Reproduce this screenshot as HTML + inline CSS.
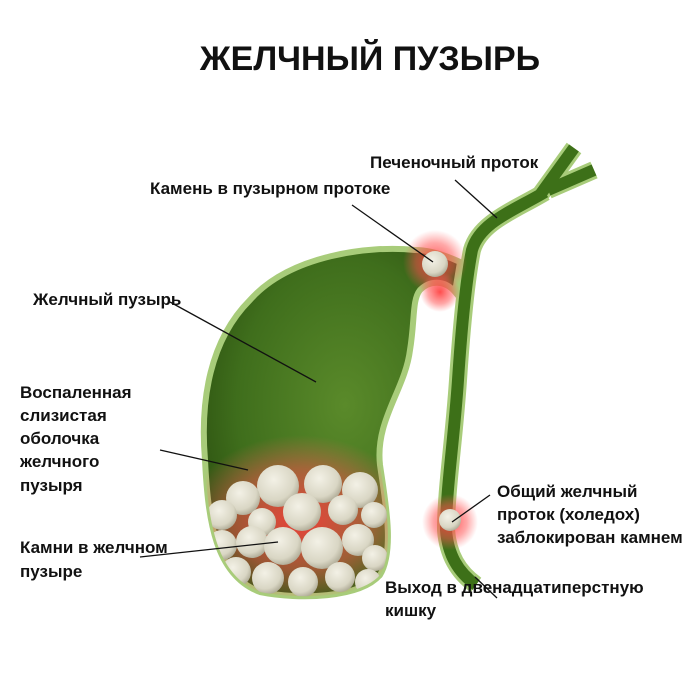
<!DOCTYPE html>
<html><head><meta charset="utf-8"><style>
body{margin:0;background:#fff}
svg{display:block}
text{font-family:"Liberation Sans",sans-serif;font-weight:bold;font-size:17px;fill:#111}
</style></head><body>
<svg width="700" height="700" viewBox="0 0 700 700">
<defs>
<radialGradient id="gb" cx="0.55" cy="0.45" r="0.6">
<stop offset="0" stop-color="#5a8a2a"/><stop offset="0.7" stop-color="#3f6e1c"/><stop offset="1" stop-color="#2f5512"/>
</radialGradient>
<radialGradient id="red"><stop offset="0" stop-color="#ff3a3a" stop-opacity="0.9"/><stop offset="0.6" stop-color="#ff5050" stop-opacity="0.5"/><stop offset="1" stop-color="#ff6060" stop-opacity="0"/></radialGradient>
<radialGradient id="st" cx="0.4" cy="0.35" r="0.7"><stop offset="0" stop-color="#f3f1e6"/><stop offset="0.7" stop-color="#d9d6c4"/><stop offset="1" stop-color="#a9a590"/></radialGradient>
<clipPath id="gbc"><path d="M415,250 C370,245 290,255 250,300 C210,340 200,400 205,460 C208,520 215,575 260,592 C300,600 360,598 380,575 C395,550 385,500 380,465 C375,420 405,390 410,350 C415,320 412,300 420,290 C430,280 445,280 455,292 L460,262 C445,255 430,250 415,250 Z"/></clipPath>
</defs>
<text x="370" y="70" text-anchor="middle" style="font-size:34px;font-weight:900">ЖЕЛЧНЫЙ ПУЗЫРЬ</text>

<!-- duct -->
<path d="M574,148 L540,195 M594,170 L548,190 M545,192 C515,210 480,222 472,250 C466,280 462,320 458,380 C454,440 446,490 446,530 C448,555 458,572 476,585" fill="none" stroke="#a8cc7a" stroke-width="18" stroke-linejoin="round"/>
<path d="M574,148 L540,195 M594,170 L548,190 M545,192 C515,210 480,222 472,250 C466,280 462,320 458,380 C454,440 446,490 446,530 C448,555 458,572 476,585" fill="none" stroke="#3d7018" stroke-width="12" stroke-linejoin="round"/>

<!-- gallbladder -->
<path d="M415,250 C370,245 290,255 250,300 C210,340 200,400 205,460 C208,520 215,575 260,592 C300,600 360,598 380,575 C395,550 385,500 380,465 C375,420 405,390 410,350 C415,320 412,300 420,290 C430,280 445,280 455,292 L460,262 C445,255 430,250 415,250 Z" fill="url(#gb)" stroke="#a8cc7a" stroke-width="6"/>
<g clip-path="url(#gbc)">
<ellipse cx="300" cy="520" rx="115" ry="85" fill="url(#red)"/>
<g fill="url(#st)">
<circle cx="278" cy="486" r="21"/><circle cx="323" cy="484" r="19"/><circle cx="360" cy="490" r="18"/>
<circle cx="243" cy="498" r="17"/><circle cx="222" cy="515" r="15"/><circle cx="302" cy="512" r="19"/>
<circle cx="343" cy="510" r="15"/><circle cx="374" cy="515" r="13"/><circle cx="262" cy="522" r="14"/>
<circle cx="222" cy="545" r="15"/><circle cx="252" cy="542" r="16"/><circle cx="283" cy="546" r="19"/>
<circle cx="322" cy="548" r="21"/><circle cx="358" cy="540" r="16"/><circle cx="375" cy="558" r="13"/>
<circle cx="236" cy="572" r="15"/><circle cx="268" cy="578" r="16"/><circle cx="303" cy="582" r="15"/>
<circle cx="340" cy="577" r="15"/><circle cx="368" cy="582" r="13"/>
</g>
</g>
<!-- inflamed spots -->
<circle cx="435" cy="262" r="32" fill="url(#red)"/>
<circle cx="440" cy="292" r="20" fill="url(#red)"/>
<circle cx="435" cy="264" r="13" fill="url(#st)"/>
<circle cx="450" cy="522" r="28" fill="url(#red)"/>
<circle cx="450" cy="520" r="11" fill="url(#st)"/>

<!-- leader lines -->
<g stroke="#111" stroke-width="1.3">
<line x1="455" y1="180" x2="497" y2="218"/>
<line x1="352" y1="205" x2="433" y2="262"/>
<line x1="170" y1="302" x2="316" y2="382"/>
<line x1="160" y1="450" x2="248" y2="470"/>
<line x1="140" y1="557" x2="278" y2="542"/>
<line x1="490" y1="495" x2="452" y2="522"/>
<line x1="475" y1="577" x2="497" y2="598"/>
</g>

<text x="370" y="168">Печеночный проток</text>
<text x="150" y="194">Камень в пузырном протоке</text>
<text x="33" y="305">Желчный пузырь</text>
<text x="20" y="398">Воспаленная</text>
<text x="20" y="421">слизистая</text>
<text x="20" y="444">оболочка</text>
<text x="20" y="467">желчного</text>
<text x="20" y="491">пузыря</text>
<text x="20" y="553">Камни в желчном</text>
<text x="20" y="577">пузыре</text>
<text x="497" y="497">Общий желчный</text>
<text x="497" y="520">проток (холедох)</text>
<text x="497" y="543">заблокирован камнем</text>
<text x="385" y="593">Выход в двенадцатиперстную</text>
<text x="385" y="616">кишку</text>
</svg>
</body></html>
